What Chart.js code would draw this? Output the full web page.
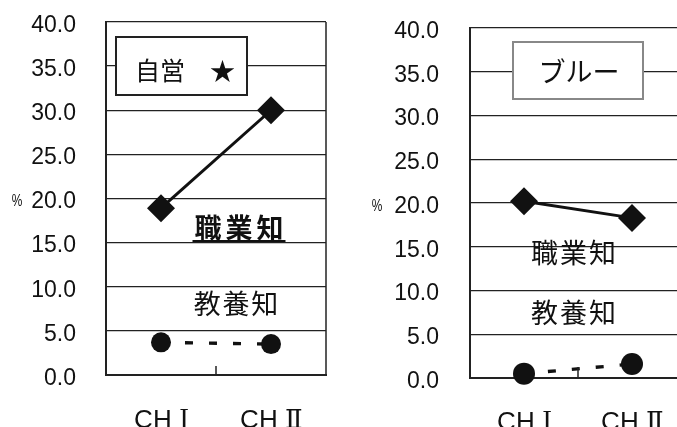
<!DOCTYPE html>
<html>
<head>
  <meta charset="utf-8">
  <title>職業知・教養知</title>
  <script src="https://cdn.jsdelivr.net/npm/chart.js"></script>
  <style>
    @font-face {
      font-family: 'ChLabel';
      src: local('Liberation Sans');
      unicode-range: U+0000-00FF;
    }
    @font-face {
      font-family: 'ChLabel';
      src: local('DejaVu Serif');
      unicode-range: U+2160-217F;
    }
    html, body {
      margin: 0;
      padding: 0;
      width: 677px;
      height: 427px;
      overflow: hidden;
      background: #fff;
    }
    .panel {
      position: absolute;
      top: 0;
      height: 427px;
    }
    #left { left: 0; width: 340px; }
    #right { left: 340px; width: 360px; }
  </style>
</head>
<body>

  <div class="panel" id="left"><canvas id="chartJiei"></canvas></div>
  <div class="panel" id="right"><canvas id="chartBlue"></canvas></div>

  <script>
    // data
    const categories = ['CH Ⅰ', 'CH Ⅱ'];
    const seriesNames = ['職業知', '教養知'];
    const jieiShokugyo = [18.9, 30.0];
    const jieiKyoyo = [3.7, 3.5];
    const blueShokugyo = [20.2, 18.3];
    const blueKyoyo = [0.5, 1.6];
    const yMin = 0, yMax = 40, yStep = 5;

    const jpFont = '"Noto Sans CJK JP", sans-serif';
    const numFont = '"Liberation Sans", Arial, sans-serif';

    // frame, middle tick, title box, series notes, % sign
    const panelDeco = {
      id: 'panelDeco',
      afterDatasetsDraw(chart, args, opts) {
        const ctx = chart.ctx;
        const a = chart.chartArea;
        ctx.save();

        ctx.strokeStyle = '#222';
        ctx.lineWidth = 1.5;
        ctx.beginPath();
        ctx.moveTo(a.right, a.top);
        ctx.lineTo(a.right, a.bottom);
        ctx.stroke();

        const mx = chart.scales.x.getPixelForValue(0.5);
        ctx.beginPath();
        ctx.moveTo(mx, a.bottom);
        ctx.lineTo(mx, a.bottom - opts.tick);
        ctx.stroke();

        const b = opts.box;
        ctx.fillStyle = '#fff';
        ctx.fillRect(b.x, b.y, b.w, b.h);
        ctx.strokeStyle = b.color;
        ctx.lineWidth = 2;
        ctx.strokeRect(b.x, b.y, b.w, b.h);
        ctx.fillStyle = '#111';
        ctx.font = b.font;
        ctx.textAlign = 'center';
        ctx.textBaseline = 'middle';
        ctx.fillText(b.text, b.tx, b.ty);

        opts.notes.forEach(n => {
          ctx.font = n.font;
          const chars = [...n.text];
          chars.forEach((c, i) => {
            ctx.fillText(c, n.x + (i - (chars.length - 1) / 2) * n.pitch, n.y);
          });
          if (n.underline) {
            const w = n.pitch * chars.length;
            ctx.fillRect(n.x - w / 2, n.underline, w, 2);
          }
        });

        ctx.translate(opts.pct.x, chart.scales.y.getPixelForValue(20) + 3);
        ctx.scale(0.7, 1);
        ctx.font = '17px ' + numFont;
        ctx.fillText('%', 0, 0);
        ctx.restore();
      }
    };

    function makeChart(id, shokugyo, kyoyo, cfg) {
      return new Chart(document.getElementById(id), {
        type: 'line',
        data: {
          labels: categories,
          datasets: [{
            label: seriesNames[0],
            data: shokugyo,
            borderColor: '#111',
            backgroundColor: '#111',
            borderWidth: 3,
            pointStyle: 'rectRot',
            pointRadius: 14,
            pointBorderWidth: 0,
            clip: false
          }, {
            label: seriesNames[1],
            data: kyoyo,
            borderColor: '#111',
            backgroundColor: '#111',
            borderWidth: 3.3,
            borderDash: [8, 16],
            pointStyle: 'circle',
            pointRadius: cfg.dot,
            pointBorderWidth: 0,
            clip: false
          }]
        },
        options: {
          responsive: true,
          maintainAspectRatio: false,
          animation: false,
          events: [],
          layout: { padding: { top: cfg.top, right: cfg.right, left: 0, bottom: 0 } },
          scales: {
            x: {
              offset: true,
              grid: {
                drawOnChartArea: false,
                drawTicks: true,
                tickLength: cfg.xPad,
                tickColor: 'rgba(0,0,0,0)'
              },
              border: { display: true, color: '#222', width: 2 },
              ticks: {
                padding: 0,
                color: '#111',
                font: { family: 'ChLabel, "Liberation Sans", sans-serif', size: 25.5 }
              },
              afterFit(scale) { scale.height = cfg.xHeight; }
            },
            y: {
              min: yMin,
              max: yMax,
              grid: {
                color: '#222',
                lineWidth: 1.3,
                drawTicks: true,
                tickLength: cfg.yPad,
                tickColor: 'rgba(0,0,0,0)'
              },
              border: { display: true, color: '#222', width: 2 },
              ticks: {
                stepSize: yStep,
                padding: 0,
                labelOffset: 3.5,
                color: '#111',
                font: { family: numFont, size: 23 },
                callback: v => v.toFixed(1)
              },
              afterFit(scale) { scale.width = cfg.yWidth; }
            }
          },
          plugins: {
            legend: { display: false },
            tooltip: { enabled: false },
            panelDeco: cfg.deco
          }
        },
        plugins: [panelDeco]
      });
    }

    function drawAll() {
      makeChart('chartJiei', jieiShokugyo, jieiKyoyo, {
        top: 22, right: 9, xHeight: 52, yWidth: 106, yPad: 30, xPad: 31, dot: 10,
        deco: {
          tick: 9,
          box: { x: 116, y: 37, w: 131, h: 58, color: '#222', text: '自営　★',
                 font: '25px ' + jpFont, tx: 185, ty: 70 },
          notes: [
            { text: seriesNames[0], font: 'bold 27px ' + jpFont, pitch: 31, x: 239, y: 228, underline: 240 },
            { text: seriesNames[1], font: '27px ' + jpFont, pitch: 28.7, x: 236, y: 304 }
          ],
          pct: { x: 17 }
        }
      });

      makeChart('chartBlue', blueShokugyo, blueKyoyo, {
        top: 28, right: 12.5, xHeight: 49, yWidth: 130, yPad: 31, xPad: 30, dot: 11,
        deco: {
          tick: 11,
          box: { x: 173, y: 42, w: 130, h: 57, color: '#888', text: 'ブルー',
                 font: '27px ' + jpFont, tx: 239, ty: 72 },
          notes: [
            { text: seriesNames[0], font: '27px ' + jpFont, pitch: 29, x: 233.5, y: 253 },
            { text: seriesNames[1], font: '27px ' + jpFont, pitch: 29, x: 233.5, y: 313 }
          ],
          pct: { x: 37 }
        }
      });
    }

    document.fonts.load('24px ChLabel', 'CH ⅠⅡ').then(drawAll, drawAll);
  </script>

</body>
</html>
